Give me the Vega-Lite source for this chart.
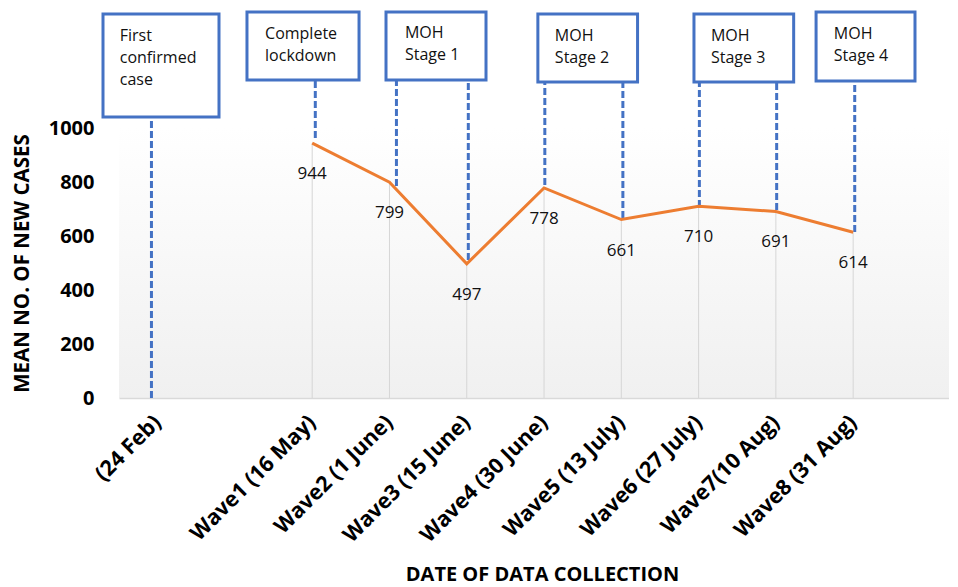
{
  "$schema": "https://vega.github.io/schema/vega-lite/v6.json",
  "width": 830,
  "height": 270,
  "padding": {"left": 12, "top": 10, "right": 0, "bottom": 2},
  "background": "white",
  "view": {"stroke": null, "fill": {"gradient": "linear", "x1": 0, "y1": 0, "x2": 0, "y2": 1, "stops": [{"offset": 0, "color": "#ffffff"}, {"offset": 1, "color": "#f0f0f0"}]}},
  "config": {"font": "Open Sans"},
  "datasets": {
    "points": [
      {"label": "Wave1 (16 May)", "x": 2, "y": 944},
      {"label": "Wave2 (1 June)", "x": 3, "y": 799},
      {"label": "Wave3 (15 June)", "x": 4, "y": 497},
      {"label": "Wave4 (30 June)", "x": 5, "y": 778},
      {"label": "Wave5 (13 July)", "x": 6, "y": 661},
      {"label": "Wave6 (27 July)", "x": 7, "y": 710},
      {"label": "Wave7(10 Aug)", "x": 8, "y": 691},
      {"label": "Wave8 (31 Aug)", "x": 9, "y": 614}
    ],
    "markers": [
      {"x": -0.08, "y": 0, "y2": 1041},
      {"x": 2.04, "y": 963, "y2": 1178},
      {"x": 3.09, "y": 785, "y2": 1178},
      {"x": 4.02, "y": 511, "y2": 1178},
      {"x": 5.01, "y": 789, "y2": 1170},
      {"x": 6.02, "y": 667, "y2": 1170},
      {"x": 7.01, "y": 707, "y2": 1170},
      {"x": 8.01, "y": 696, "y2": 1170},
      {"x": 9.02, "y": 615, "y2": 1174}
    ],
    "boxes": [
      {"x": -0.707, "x2": 0.794, "y": 1422, "y2": 1041},
      {"x": 1.156, "x2": 2.606, "y": 1430, "y2": 1178},
      {"x": 2.955, "x2": 4.249, "y": 1430, "y2": 1178},
      {"x": 4.92, "x2": 6.21, "y": 1422, "y2": 1170},
      {"x": 6.94, "x2": 8.23, "y": 1422, "y2": 1170},
      {"x": 8.52, "x2": 9.80, "y": 1430, "y2": 1174}
    ],
    "boxtext": [
      {"x": -0.49, "y": 1322, "text": "First\nconfirmed\ncase"},
      {"x": 1.39, "y": 1330, "text": "Complete\nlockdown"},
      {"x": 3.20, "y": 1333, "text": "MOH\nStage 1"},
      {"x": 5.14, "y": 1322, "text": "MOH\nStage 2"},
      {"x": 7.16, "y": 1322, "text": "MOH\nStage 3"},
      {"x": 8.75, "y": 1330, "text": "MOH\nStage 4"}
    ]
  },
  "encoding": {
    "x": {
      "field": "x", "type": "quantitative",
      "scale": {"domain": [-0.5, 10.24], "nice": false, "zero": false},
      "axis": {
        "title": "DATE OF DATA COLLECTION",
        "titleFont": "Open Sans", "titleFontSize": 20, "titleFontWeight": "bold", "titleColor": "#000000",
        "titleX": 423, "titlePadding": 18,
        "values": [0, 2, 3, 4, 5, 6, 7, 8, 9],
        "labelExpr": "['(24 Feb)','','Wave1 (16 May)','Wave2 (1 June)','Wave3 (15 June)','Wave4 (30 June)','Wave5 (13 July)','Wave6 (27 July)','Wave7(10 Aug)','Wave8 (31 Aug)'][datum.value]",
        "labelAngle": -45, "labelAlign": "right", "labelBaseline": "middle",
        "labelFont": "Open Sans", "labelFontSize": 21.5, "labelFontWeight": "bold", "labelColor": "#000000",
        "labelPadding": 21, "labelOverlap": false, "labelFlush": false,
        "ticks": false, "grid": false,
        "domainColor": "#d9d9d9", "domainWidth": 1.5
      }
    },
    "y": {
      "field": "y", "type": "quantitative",
      "scale": {"domain": [0, 1000], "nice": false},
      "axis": {
        "title": "MEAN NO. OF NEW CASES",
        "titleFont": "Open Sans", "titleFontSize": 20.5, "titleFontWeight": "bold", "titleColor": "#000000",
        "titlePadding": 16,
        "values": [0, 200, 400, 600, 800, 1000], "format": "d",
        "labelFont": "Open Sans", "labelFontSize": 20, "labelFontWeight": "bold", "labelColor": "#000000",
        "labelPadding": 25,
        "ticks": false, "grid": false, "domain": false
      }
    }
  },
  "layer": [
    {
      "data": {"name": "points"},
      "mark": {"type": "rule", "color": "#d6d6d6", "strokeWidth": 1},
      "encoding": {"y2": {"datum": 0}}
    },
    {
      "data": {"name": "markers"},
      "mark": {"type": "rule", "color": "#4472C4", "strokeWidth": 3, "strokeDash": [7, 3]},
      "encoding": {"y2": {"field": "y2"}}
    },
    {
      "data": {"name": "points"},
      "mark": {"type": "line", "color": "#ED7D31", "strokeWidth": 3},
      "encoding": {}
    },
    {
      "data": {"name": "points"},
      "mark": {"type": "text", "font": "Open Sans", "fontSize": 17, "color": "#111111", "dy": 31, "baseline": "middle", "align": "center"},
      "encoding": {"text": {"field": "y", "type": "quantitative"}}
    },
    {
      "data": {"name": "boxes"},
      "mark": {"type": "rect", "fill": "white", "stroke": "#4472C4", "strokeWidth": 3},
      "encoding": {"x2": {"field": "x2"}, "y2": {"field": "y2"}}
    },
    {
      "data": {"name": "boxtext"},
      "mark": {"type": "text", "font": "Open Sans", "fontSize": 16, "color": "#111111", "align": "left", "baseline": "alphabetic", "lineBreak": "\n", "lineHeight": 22},
      "encoding": {"text": {"field": "text", "type": "nominal"}}
    }
  ]
}
